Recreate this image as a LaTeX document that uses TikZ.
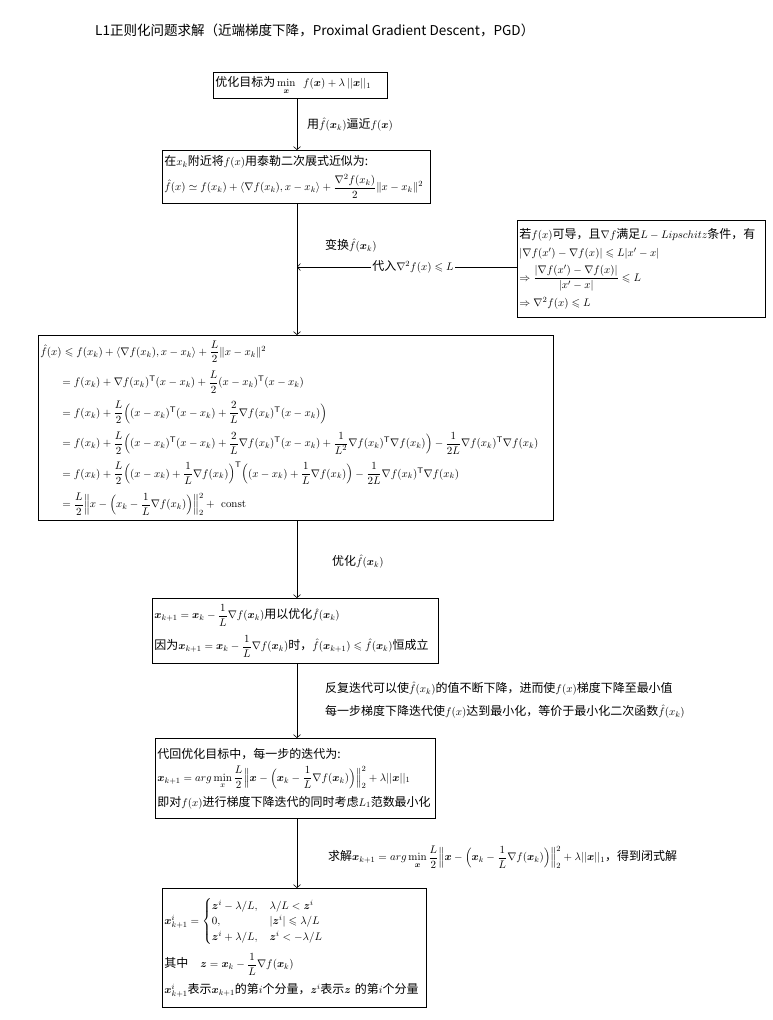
\documentclass[tikz,border=0pt]{standalone}
\usepackage{amsmath,amssymb}
\usepackage[no-math]{fontspec}
\setmainfont{Noto Sans CJK SC}[Scale=1.09]
\usetikzlibrary{arrows.meta}
\newcommand{\vx}{\boldsymbol{x}}
\newcommand{\vz}{\boldsymbol{z}}
\newcommand{\tp}{^{\mathsf{T}}}
\begin{document}
\begin{tikzpicture}[x=1pt,y=-1pt,
  box/.style={draw, line width=0.8pt, anchor=north west, align=left, inner xsep=2pt, inner ysep=0pt, font=\fontsize{11}{13}\selectfont},
  lab/.style={anchor=west, align=left, inner sep=0pt, font=\fontsize{11}{13}\selectfont},
  arr/.style={-{Straight Barb[length=3pt,width=7pt]}, line width=0.6pt}]
\fill[white] (0,0) rectangle (773,1020);
\useasboundingbox (0,0) rectangle (773,1020);
\node[anchor=west, inner sep=0pt, font=\fontsize{12.4}{14}\selectfont] (title) at (95,30) {L1正则化问题求解（近端梯度下降，Proximal Gradient Descent，PGD）};
\coordinate (ax) at (297,0);
% box1
\node[box, minimum width=174, minimum height=26, text width=170] (b1) at (213,72)
 {优化目标为$\,\min\limits_{\vx}\ \,f(\vx)+\lambda\,||\vx||_1$};
% box2
\node[box, minimum width=268, minimum height=53, text width=264] (b2) at (162,150)
 {在$x_k$附近将$f(x)$用泰勒二次展式近似为:\\[5pt]
 $\hat f(x)\simeq f(x_k)+\langle\nabla f(x_k),x-x_k\rangle+\dfrac{\nabla^2 f(x_k)}{2}\|x-x_k\|^2$};
% right box
\node[box, minimum width=248, minimum height=97, text width=244] (b3) at (517,220)
 {若$f(x)$可导，且$\nabla f$满足$L-Lipschitz$条件，有\\[5pt]
 $|\nabla f(x')-\nabla f(x)|\leqslant L|x'-x|$\\[5pt]
 $\Rightarrow\dfrac{|\nabla f(x')-\nabla f(x)|}{|x'-x|}\leqslant L$\\[5pt]
 $\Rightarrow\nabla^2 f(x)\leqslant L$};
% big box
\node[box, minimum width=515, minimum height=185, text width=511] (b4) at (38,335)
 {$\hat f(x)\leqslant f(x_k)+\langle\nabla f(x_k),x-x_k\rangle+\dfrac{L}{2}\|x-x_k\|^2$\\[7pt]
 \hspace*{22pt}$=f(x_k)+\nabla f(x_k)\tp(x-x_k)+\dfrac L2(x-x_k)\tp(x-x_k)$\\[7pt]
 \hspace*{22pt}$=f(x_k)+\dfrac L2\Big((x-x_k)\tp(x-x_k)+\dfrac 2L\nabla f(x_k)\tp(x-x_k)\Big)$\\[7pt]
 \hspace*{22pt}$=f(x_k)+\dfrac L2\Big((x-x_k)\tp(x-x_k)+\dfrac 2L\nabla f(x_k)\tp(x-x_k)+\dfrac 1{L^2}\nabla f(x_k)\tp\nabla f(x_k)\Big)-\dfrac1{2L}\nabla f(x_k)\tp\nabla f(x_k)$\\[7pt]
 \hspace*{22pt}$=f(x_k)+\dfrac L2\Big((x-x_k)+\dfrac1L\nabla f(x_k)\Big)\tp\Big((x-x_k)+\dfrac1L\nabla f(x_k)\Big)-\dfrac1{2L}\nabla f(x_k)\tp\nabla f(x_k)$\\[7pt]
 \hspace*{22pt}$=\dfrac L2\Big\|x-\Big(x_k-\dfrac1L\nabla f(x_k)\Big)\Big\|_2^2+\ \mathrm{const}$};
% box 5
\node[box, minimum width=286, minimum height=65, text width=282] (b5) at (152,598)
 {$\vx_{k+1}=\vx_k-\dfrac1L\nabla f(\vx_k)$用以优化$\hat f(\vx_k)$\\[8pt]
 因为$\vx_{k+1}=\vx_k-\dfrac1L\nabla f(\vx_k)$时，$\hat f(\vx_{k+1})\leqslant\hat f(\vx_k)$恒成立};
% box 6
\node[box, minimum width=280, minimum height=80, text width=276] (b6) at (155,738)
 {代回优化目标中，每一步的迭代为:\\[6pt]
 $\vx_{k+1}=arg\min\limits_{x}\dfrac L2\Big\|\vx-\Big(\vx_k-\dfrac1L\nabla f(\vx_k)\Big)\Big\|_2^2+\lambda||\vx||_1$\\[6pt]
 即对$f(x)$进行梯度下降迭代的同时考虑$L_1$范数最小化};
% box 7
\node[box, minimum width=264, minimum height=119, text width=260] (b7) at (162,888)
 {$\vx_{k+1}^i=\begin{cases}\vz^i-\lambda/L, & \lambda/L<\vz^i\\ 0, & |\vz^i|\leqslant\lambda/L\\ \vz^i+\lambda/L, & \vz^i<-\lambda/L\end{cases}$\\[7pt]
 其中\quad $\vz=\vx_k-\dfrac1L\nabla f(\vx_k)$\\[7pt]
 $\vx_{k+1}^i$表示$\vx_{k+1}$的第$i$个分量，$\vz^i$表示$\vz$ 的第$i$个分量};
% connectors
\draw[arr] (b1.south -| ax) -- (b2.north -| ax);
\draw[arr] (b2.south -| ax) -- (b4.north -| ax);
\coordinate (hj) at (297,267);
\draw[arr] (b3.west |- hj) -- (hj);
\node[fill=white, inner sep=1pt, font=\fontsize{11}{13}\selectfont] (l3) at (413,267) {代入$\nabla^2 f(x)\leqslant L$};
\draw[arr] (b4.south -| ax) -- (b5.north -| ax);
\draw[arr] (b5.south -| ax) -- (b6.north -| ax);
\draw[arr] (b6.south -| ax) -- (b7.north -| ax);
% labels
\node[lab] (l1) at (307,125) {用$\hat f(\vx_k)$逼近$f(\vx)$};
\node[lab] (l2) at (325,246) {变换$\hat f(\vx_k)$};
\node[lab] (l4) at (332,562) {优化$\hat f(\vx_k)$};
\node[lab] (l5) at (325,700) {反复迭代可以使$\hat f(x_k)$的值不断下降，进而使$f(x)$梯度下降至最小值\\[9pt]
 每一步梯度下降迭代使$f(x)$达到最小化，等价于最小化二次函数$\hat f(x_k)$};
\node[lab] (l6) at (328,857) {求解$\vx_{k+1}=arg\min\limits_{\vx}\dfrac L2\Big\|\vx-\Big(\vx_k-\dfrac1L\nabla f(\vx_k)\Big)\Big\|_2^2+\lambda||\vx||_1$，得到闭式解};
\end{tikzpicture}
\end{document}
